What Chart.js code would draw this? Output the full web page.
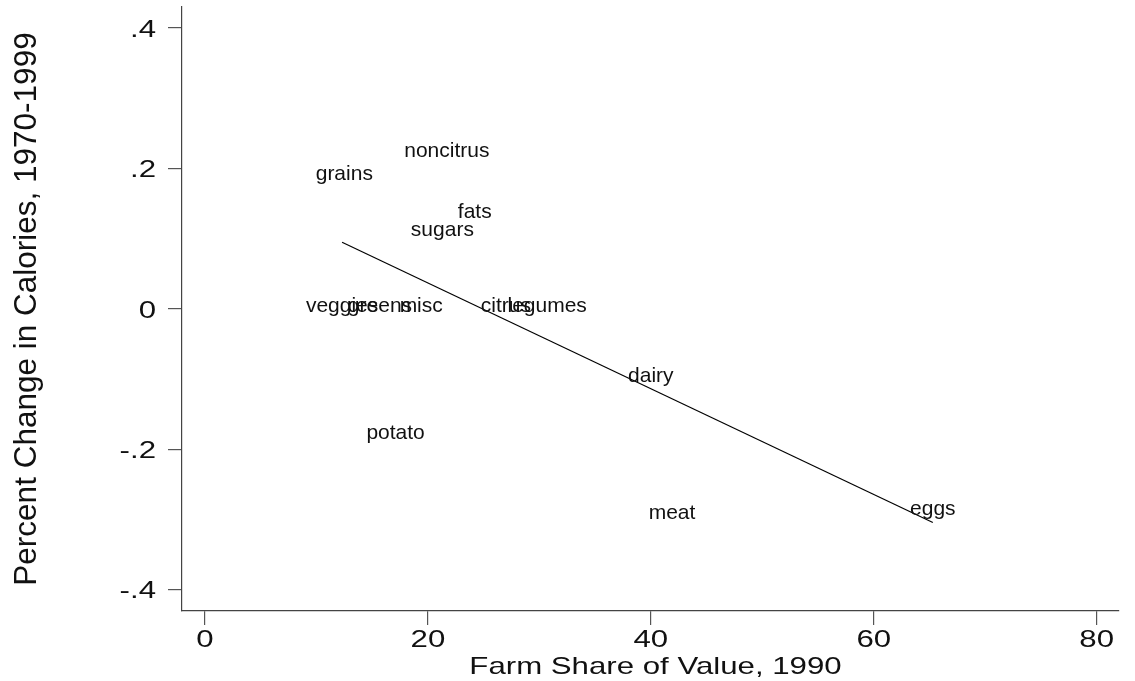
<!DOCTYPE html>
<html>
<head>
<meta charset="utf-8">
<script src="https://cdn.jsdelivr.net/npm/chart.js@4"></script>
<style>
  body { margin: 0; background: #fff; }
</style>
</head>
<body>
<canvas id="chart" width="1135" height="681"></canvas>
<script>
// food groups, farm share 1990 (x) and % change in calories 1970-99 (y)
const foods = ['noncitrus', 'grains', 'fats', 'sugars', 'veggies', 'greens', 'misc', 'citrus', 'legumes', 'dairy', 'potato', 'meat', 'eggs'];
const farmShare = [21.7, 12.5, 24.2, 21.3, 12.3, 15.7, 19.4, 27.0, 30.7, 40.0, 17.1, 41.9, 65.3];
const calChange = [0.22, 0.188, 0.134, 0.108, 0, 0, 0, 0, 0, -0.10, -0.181, -0.295, -0.289];

// fitted line endpoints
const fitX = [12.3, 65.3];
const fitY = [0.095, -0.304];

const xTicks = [0, 20, 40, 60, 80];
const yTicks = [-0.4, -0.2, 0, 0.2, 0.4];
const yTickLabels = ['-.4', '-.2', '0', '.2', '.4'];
const xTitle = 'Farm Share of Value, 1990';
const yTitle = 'Percent Change in Calories, 1970-1999';

const FONT = 'Arial, "Liberation Sans", Helvetica, sans-serif';
const SX = 1.3; // axis text in the original is drawn wide

function wideText(ctx, text, px, py, align) {
  ctx.save();
  ctx.translate(px, py);
  ctx.scale(SX, 1);
  ctx.textAlign = align;
  ctx.fillText(text, 0, 0);
  ctx.restore();
}

// food names centred on their points
const pointLabels = {
  id: 'pointLabels',
  afterDatasetsDraw(chart) {
    const ctx = chart.ctx;
    const meta = chart.getDatasetMeta(0);
    ctx.save();
    ctx.font = '21px ' + FONT;
    ctx.fillStyle = '#111';
    ctx.textAlign = 'center';
    ctx.textBaseline = 'middle';
    meta.data.forEach((pt, i) => {
      ctx.fillText(foods[i], pt.x, pt.y - 3);
    });
    ctx.restore();
  }
};

// tick labels and x title, placed with the chart's scales
const axisText = {
  id: 'axisText',
  afterDraw(chart) {
    const { ctx, scales: { x, y } } = chart;
    ctx.save();
    ctx.fillStyle = '#111';
    ctx.font = '24px ' + FONT;
    ctx.textBaseline = 'alphabetic';
    xTicks.forEach(v => wideText(ctx, String(v), x.getPixelForValue(v), 647, 'center'));
    yTicks.forEach((v, i) => wideText(ctx, yTickLabels[i], 156, y.getPixelForValue(v) + 8.5, 'right'));
    wideText(ctx, xTitle, (x.left + x.right) / 2 + 5, 674, 'center');
    ctx.restore();
  }
};

const points = farmShare.map((x, i) => ({ x: x, y: calChange[i] }));
const fit = fitX.map((x, i) => ({ x: x, y: fitY[i] }));

new Chart(document.getElementById('chart'), {
  type: 'scatter',
  data: {
    datasets: [
      { data: points, pointRadius: 0, pointHoverRadius: 0 },
      { data: fit, showLine: true, borderColor: '#000', borderWidth: 1.2, pointRadius: 0, fill: false }
    ]
  },
  options: {
    responsive: false,
    devicePixelRatio: 1,
    animation: false,
    layout: { padding: { top: 7, right: 16, left: 0, bottom: 0 } },
    plugins: { legend: { display: false }, tooltip: { enabled: false } },
    scales: {
      x: {
        type: 'linear',
        min: -2.06,
        max: 82,
        afterBuildTicks: s => { s.ticks = xTicks.map(v => ({ value: v })); },
        afterFit: s => { s.height = 70; s.paddingLeft = 0; s.paddingRight = 0; },
        border: { color: '#444', width: 1.2 },
        grid: { drawOnChartArea: false, drawTicks: true, tickLength: 14, color: '#555', lineWidth: 1.2 },
        ticks: { display: false },
        title: { display: false }
      },
      y: {
        type: 'linear',
        min: -0.43,
        max: 0.43,
        afterBuildTicks: s => { s.ticks = yTicks.map(v => ({ value: v })); },
        afterFit: s => { s.width = 182; s.paddingTop = 0; s.paddingBottom = 0; },
        border: { color: '#444', width: 1.2 },
        grid: { drawOnChartArea: false, drawTicks: true, tickLength: 14, color: '#555', lineWidth: 1.2 },
        ticks: { display: false },
        title: { display: true, text: yTitle, font: { family: FONT, size: 31.5 }, color: '#111', padding: { top: 8, bottom: 0 } }
      }
    }
  },
  plugins: [pointLabels, axisText]
});
</script>
</body>
</html>
